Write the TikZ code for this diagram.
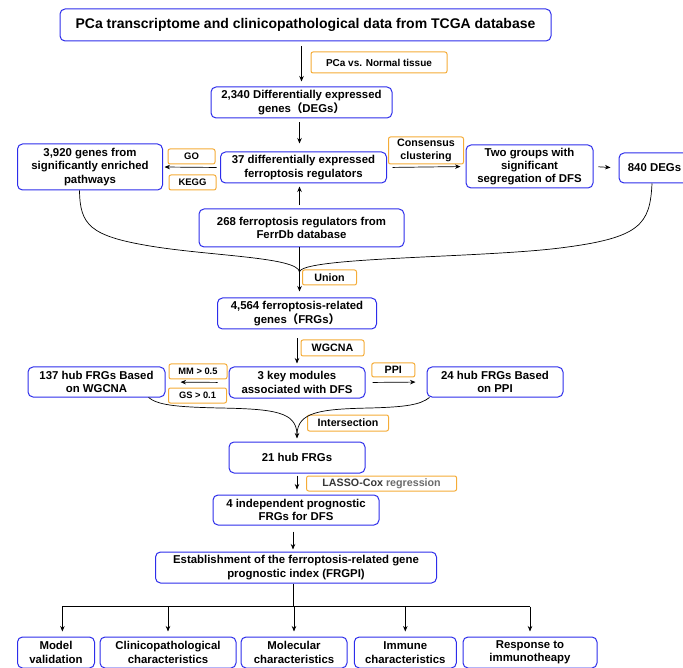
\documentclass[tikz,border=0pt]{standalone}
\usepackage{fontspec}
\setmainfont{Liberation Sans}
\newfontfamily\cjk{Noto Sans CJK SC}
\usetikzlibrary{arrows.meta}
\definecolor{boxblue}{RGB}{45,45,235}
\definecolor{laborange}{RGB}{245,172,55}
\tikzset{
  box/.style={draw=boxblue, line width=1pt, rounded corners=5pt, align=center,
    font=\fontsize{11.4}{13.4}\selectfont\bfseries, inner sep=1pt, fill=white},
  lab/.style={draw=laborange, line width=1pt, rounded corners=2pt, align=center,
    font=\fontsize{10.7}{12.3}\selectfont\bfseries, inner sep=1pt, fill=white},
  smalllab/.style={lab, font=\fontsize{9.3}{10}\selectfont\bfseries},
  arr/.style={-{Stealth[length=5.5pt,width=4.5pt]}, line width=0.7pt},
  merge/.style={line width=0.7pt}
}
\begin{document}
\begin{tikzpicture}[x=1pt,y=-1pt]
\useasboundingbox (0,0) rectangle (683,668);
\clip (0,0) rectangle (683,668);

\node[box, minimum width=491pt, minimum height=32pt, font=\fontsize{14}{16}\selectfont\bfseries] (title) at (305.5,25) {PCa transcriptome and clinicopathological data from TCGA database};
\node[lab, minimum width=136pt, minimum height=21pt, font=\fontsize{10}{12}\selectfont\bfseries] (tissue) at (379,62.5) {PCa vs. Normal tissue};
\node[box, minimum width=181pt, minimum height=31pt] (degs) at (301.5,102.5) {2,340 Differentially expressed\\genes{\cjk （}DEGs{\cjk ）}};

\node[box, minimum width=166pt, minimum height=31pt] (dereg) at (303.5,167.5) {37 differentially expressed\\ferroptosis regulators};
\node[box, minimum width=145pt, minimum height=46pt] (path) at (90,167) {3,920 genes from\\significantly enriched\\pathways};
\node[lab, minimum width=47pt, minimum height=15pt, font=\fontsize{9.5}{11}\selectfont\bfseries] (go) at (191.5,156.5) {GO};
\node[lab, minimum width=47pt, minimum height=15pt, font=\fontsize{9.5}{11}\selectfont\bfseries] (kegg) at (192.5,182.5) {KEGG};
\node[lab, minimum width=75pt, minimum height=27pt] (cons) at (426,150.5) {Consensus\\clustering};
\node[box, minimum width=127pt, minimum height=43pt] (two) at (529.5,166.5) {Two groups with\\significant\\segregation of DFS};
\node[box, minimum width=71pt, minimum height=30pt] (deg840) at (654.5,168) {840 DEGs};
\node[box, minimum width=205pt, minimum height=38pt] (fer) at (301.5,228) {268 ferroptosis regulators from\\FerrDb database};

\node[lab, minimum width=54pt, minimum height=15pt] (union) at (329.5,277.5) {Union};
\node[box, minimum width=159pt, minimum height=31pt] (frg) at (297,313.5) {4,564 ferroptosis-related\\genes{\cjk （}FRGs{\cjk ）}};
\node[lab, minimum width=63pt, minimum height=16pt] (wgcna) at (332.5,348) {WGCNA};

\node[box, minimum width=136pt, minimum height=31pt] (key) at (297,382.5) {3 key modules\\associated with DFS};
\node[box, minimum width=137pt, minimum height=30pt] (hub137) at (96.5,382) {137 hub FRGs Based\\on WGCNA};
\node[smalllab, minimum width=58pt, minimum height=15pt] (mm) at (198,371.5) {MM \textgreater{} 0.5};
\node[smalllab, minimum width=58pt, minimum height=15pt] (gs) at (197.5,395.5) {GS \textgreater{} 0.1};
\node[lab, minimum width=43pt, minimum height=14pt] (ppi) at (393.3,370) {PPI};
\node[box, minimum width=136pt, minimum height=30pt] (hub24) at (495,382) {24 hub FRGs Based\\on PPI};

\node[lab, minimum width=81pt, minimum height=16pt] (inter) at (348,423) {Intersection};
\node[box, minimum width=136pt, minimum height=31pt] (hub21) at (297,457.5) {21 hub FRGs};
\node[lab, minimum width=150pt, minimum height=15pt, text=black!78] (lasso) at (381.6,483.5) {LASSO-Cox \textcolor{black!58}{regression}};
\node[box, minimum width=166pt, minimum height=30pt] (four) at (296,510) {4 independent prognostic\\FRGs for DFS};
\node[box, minimum width=281pt, minimum height=31pt] (est) at (296,567.5) {Establishment of the ferroptosis-related gene\\prognostic index (FRGPI)};

\node[box, minimum width=77pt, minimum height=31pt] (model) at (56,652.5) {Model\\validation};
\node[box, minimum width=136pt, minimum height=31pt] (clin) at (168,652.5) {Clinicopathological\\characteristics};
\node[box, minimum width=106pt, minimum height=31pt] (mol) at (294,652.5) {Molecular\\characteristics};
\node[box, minimum width=102pt, minimum height=31pt] (imm) at (405.3,652.5) {Immune\\characteristics};
\node[box, minimum width=134pt, minimum height=31pt] (resp) at (530,652.5) {Response to\\immunotheapy};

\coordinate (u1) at (299.5,272);
\coordinate (u2) at (297,434);
\coordinate (split) at (293,606.7);

\draw[arr, shorten <=5pt, shorten >=5pt] (title.south -| degs.north) -- (degs.north);
\draw[arr, shorten <=4pt, shorten >=8pt] (degs.south -| u1) -- (dereg.north -| u1);
\draw[arr, shorten <=3.5pt, shorten >=1.5pt] (dereg.west) -- (path.east);
\draw[arr, shorten <=5.5pt, shorten >=5pt] (dereg.east) -- (two.west);
\draw[arr, shorten <=5pt, shorten >=8pt] (two.east) -- (deg840.west);
\draw[arr, shorten <=3pt, shorten >=3pt] (fer.north -| u1) -- (dereg.south -| u1);

\draw[merge] ([xshift=-10.5pt]path.south) .. controls (80,225) and (90,236) .. (150,246)
  .. controls (210,256) and (298,257) .. (u1);
\draw[merge] ([xshift=-2.5pt]deg840.south) .. controls (650,225) and (640,238) .. (560,248)
  .. controls (480,258) and (301,257) .. (u1);
\draw[arr, shorten >=6pt] (fer.south -| u1) -- (frg.north -| u1);

\draw[arr, shorten <=9pt, shorten >=3pt] (frg.south) -- (key.north);
\draw[arr, shorten <=11pt, shorten >=15pt] (key.west) -- (hub137.east);
\draw[arr, shorten <=7pt, shorten >=11pt] (key.east) -- (hub24.west);

\draw[merge] ([xshift=52pt]hub137.south) .. controls (158,405) and (175,407) .. (220,408)
  .. controls (275,409) and (296,412) .. (u2);
\draw[merge] ([xshift=3pt]hub24.south west) .. controls (420,405) and (405,407) .. (370,408)
  .. controls (320,409) and (298,412) .. (u2);
\draw[arr, shorten >=3pt] (u2) -- (hub21.north);

\draw[arr, shorten <=2pt, shorten >=5pt] (hub21.south) -- (hub21.south |- four.north);
\draw[arr, shorten <=6pt, shorten >=2pt] (four.south -| split) -- (est.north -| split);

\draw[line width=0.7pt] (est.south -| split) -- (split);
\draw[line width=0.7pt] ([xshift=6.4pt]split -| model.north) -- (split -| resp.north);
\draw[arr, shorten >=5pt] ([xshift=6.4pt]split -| model.north) -- ([xshift=6.4pt]model.north);
\foreach \b in {clin,mol,imm,resp}
  \draw[arr, shorten >=5pt] (split -| \b.north) -- (\b.north);
\end{tikzpicture}
\end{document}
